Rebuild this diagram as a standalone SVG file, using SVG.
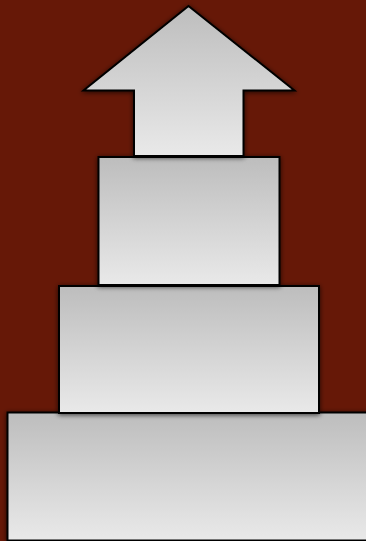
<svg xmlns="http://www.w3.org/2000/svg" width="366" height="541" viewBox="0 0 366 541">
<defs>
<linearGradient id="g" x1="0" y1="0" x2="0" y2="1">
<stop offset="0" stop-color="#bdbdbd"/>
<stop offset="1" stop-color="#e9e9e9"/>
</linearGradient>
<filter id="sh" x="-20%" y="-20%" width="140%" height="140%">
<feGaussianBlur in="SourceAlpha" stdDeviation="2.5"/>
<feOffset dx="0" dy="1"/>
<feComponentTransfer><feFuncA type="linear" slope="0.7"/></feComponentTransfer>
<feMerge><feMergeNode/><feMergeNode in="SourceGraphic"/></feMerge>
</filter>
</defs>
<style>
.s{fill:url(#g);stroke:#000;stroke-width:2;filter:url(#sh)}
</style>
<rect width="366" height="541" fill="#661807"/>
<g id="base"><rect class="s" x="7.5" y="412.5" width="370" height="128"/></g>
<g id="tier2"><rect class="s" x="59" y="286" width="260" height="127"/></g>
<g id="tier1"><rect class="s" x="98.5" y="157" width="181" height="128"/></g>
<g id="arrow"><path class="s" d="M188.5,6 L294.5,90.5 L243.5,90.5 L243.5,156 L134,156 L134,90.5 L83.5,90.5 Z"/></g>
</svg>
